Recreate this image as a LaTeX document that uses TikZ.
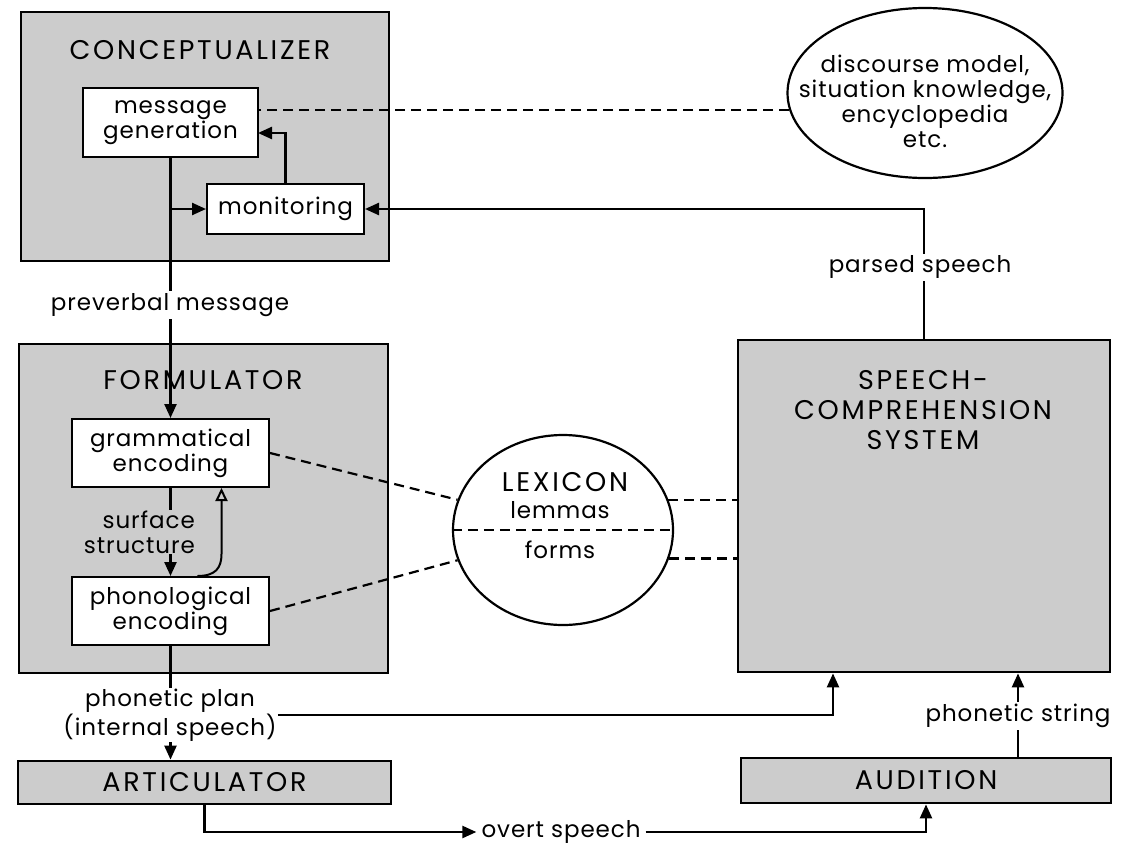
\documentclass[tikz,border=0pt]{standalone}
\usepackage{fontspec}
\setmainfont{Poppins}
\usetikzlibrary{arrows.meta,shapes.geometric}
\definecolor{shade}{gray}{0.80}
\newcommand{\txt}{\fontsize{23}{25}\selectfont\addfontfeatures{LetterSpace=4}}
\newcommand{\ttl}{\fontsize{27}{30}\selectfont\addfontfeatures{LetterSpace=10}}
\tikzset{
  bigbox/.style={draw, line width=2.8pt, fill=shade, inner sep=0pt},
  smallbox/.style={draw, line width=2pt, fill=white, align=center, inner sep=0pt, font=\txt},
  title/.style={font=\ttl, align=center, inner sep=1pt},
  lbl/.style={font=\txt, align=center, fill=white, inner sep=2pt},
  conn/.style={line width=2.4pt, -{Triangle[length=14pt,width=12pt]}},
  dsh/.style={line width=2.2pt, dash pattern=on 10pt off 6pt},
  hollow/.style={line width=2pt, -{Triangle[open,length=13pt,width=12pt]}},
  oval/.style={draw, ellipse, line width=2.2pt, fill=white, inner sep=0pt}
}
\begin{document}
\begin{tikzpicture}[x=1pt,y=-1pt]
\path[fill=white] (0,0) rectangle (1124,846);
\useasboundingbox (0,0) rectangle (1124,846);

% big boxes
\node[bigbox, minimum width=368pt, minimum height=249pt] (concept) at (205,136.5) {};
\node[bigbox, minimum width=369pt, minimum height=329pt] (form) at (203.5,508.5) {};
\node[bigbox, minimum width=372pt, minimum height=332pt] (comp) at (924,506) {};

\node[title] (tconcept) at (200,50) {CONCEPTUALIZER};
\node[title] (tform) at (203,380) {FORMULATOR};
\node[title, fill=shade, inner sep=0pt] (tcomp) at (923,410) {SPEECH-\\COMPREHENSION\\SYSTEM};

% inner boxes
\node[smallbox, minimum width=175pt, minimum height=69pt] (mg) at (170.5,122.5) {message\\generation};
\node[smallbox, minimum width=157pt, minimum height=50pt] (mon) at (285.5,209) {monitoring};
\node[smallbox, minimum width=197pt, minimum height=68pt] (gram) at (170.5,453) {grammatical\\encoding};
\node[smallbox, minimum width=197pt, minimum height=68pt] (phon) at (170.5,611) {phonological\\encoding};

\node[bigbox, minimum width=373pt, minimum height=43pt, font=\ttl] (artic) at (204.5,782.5) {ARTICULATOR};
\node[bigbox, minimum width=370pt, minimum height=45pt, font=\ttl] (aud) at (926,780.5) {AUDITION};

% ovals
\node[oval, minimum width=275pt, minimum height=170pt] (disc) at (925,93) {};
\node[font=\txt, align=center, inner sep=0pt] (tdisc) at (925,101) {discourse model,\\situation knowledge,\\encyclopedia\\etc.};
\node[oval, minimum width=220pt, minimum height=190pt] (lex) at (563,530) {};
\draw[dsh] (lex.west) -- (lex.east);
\node[font=\ttl, inner sep=0pt] (tlex) at (565,482) {LEXICON};
\node[font=\txt, inner sep=0pt] (tlem) at (560,510) {lemmas};
\node[font=\txt, inner sep=0pt] (tforms) at (560,550) {forms};

% preverbal message
\draw[conn] (mg.south) -- (gram.north);
\node[lbl] (pm) at (170,305) {preverbal message};
\draw[conn] (mg.south |- mon.west) -- (mon.west);
\coordinate (mgin) at (258,133);
\draw[conn] (mon.north) |- (mgin);

% parsed speech
\draw[conn] (comp.north) |- (mon.east);
\node[lbl] (ps) at (920,267) {parsed speech};

% dashed links
\draw[dsh] (disc.187) -- (disc.187 -| mg.east);
\draw[dsh] (gram.east) -- (lex.164);
\draw[dsh] (phon.east) -- (lex.196);
\draw[dsh] (lex.16) -- (lex.16 -| comp.west);
\draw[dsh] (lex.-15) -- (lex.-15 -| comp.west);

% surface structure
\draw[conn] (gram.south) -- (phon.north);
\node[font=\txt, align=right, fill=shade, inner sep=1pt, anchor=east] (ss) at (196,532) {surface\\structure};
\draw[hollow] ([xshift=27pt]phon.north) .. controls ([xshift=45pt]phon.north) and ([xshift=51pt,yshift=8pt]phon.north) .. ([xshift=51pt,yshift=22pt]phon.north) -- ([xshift=51pt]gram.south);

% phonetic plan
\draw[conn] (phon.south) -- (phon.south |- artic.north);
\node[lbl, inner sep=1pt] (pp) at (170,715) {phonetic plan\\(internal speech)};
\draw[conn] (pp.east) -| ([xshift=-91pt]comp.south);

% phonetic string
\draw[conn] ([xshift=92pt]aud.north) -- ([xshift=92pt]aud.north |- comp.south);
\node[lbl] (pstr) at (1018,716) {phonetic string};

% overt speech
\node[font=\txt, inner sep=5pt] (os) at (561,832) {overt speech};
\draw[conn] (artic.south) |- (os.west);
\draw[conn] (os.east) -| (aud.south);
\end{tikzpicture}
\end{document}
